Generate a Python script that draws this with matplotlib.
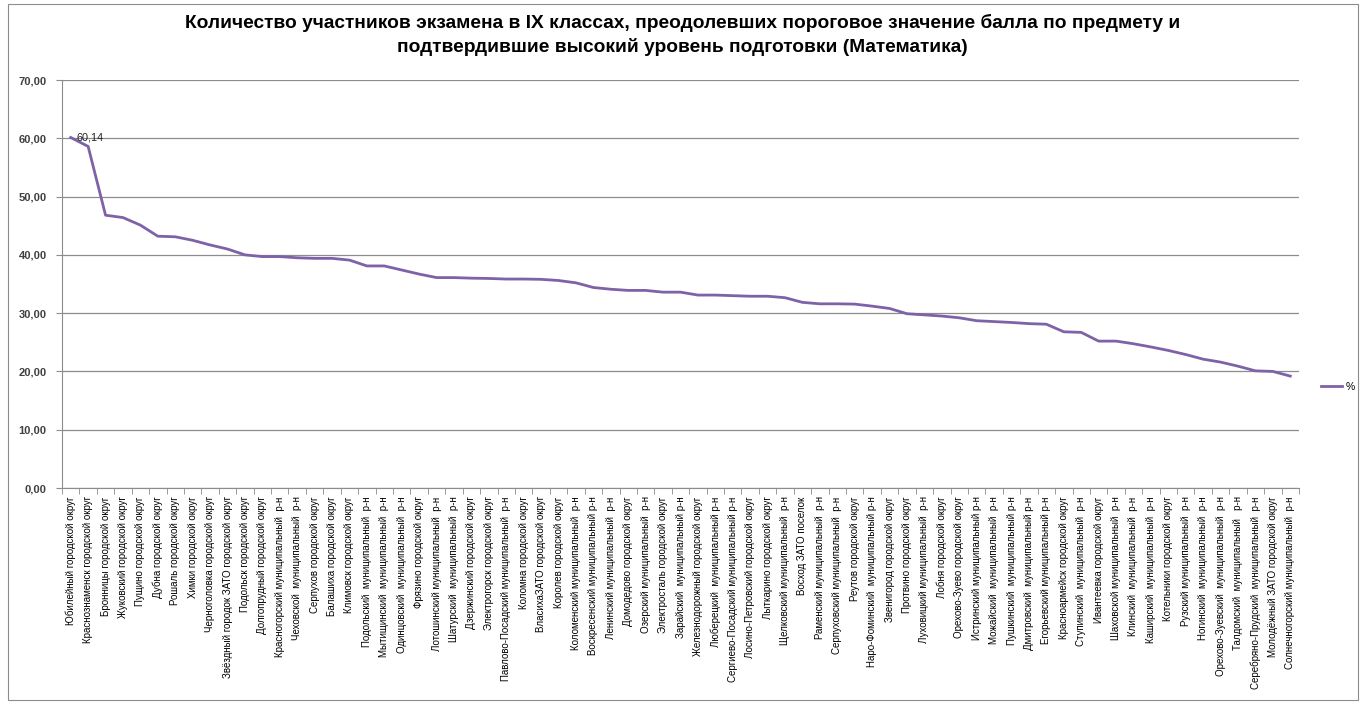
import numpy as np
import matplotlib.pyplot as plt
from matplotlib.patches import Rectangle
from matplotlib.ticker import FuncFormatter, MultipleLocator

districts = [
    'Юбилейный городской округ', 'Краснознаменск городской округ',
    'Бронницы городской округ', 'Жуковский городской округ',
    'Пущино городской округ', 'Дубна городской округ',
    'Рошаль городской округ', 'Химки городской округ',
    'Черноголовка городской округ', 'Звёздный городок ЗАТО городской округ',
    'Подольск городской округ', 'Долгопрудный городской округ',
    'Красногорский муниципальный  р-н', 'Чеховской  муниципальный  р-н',
    'Серпухов городской округ', 'Балашиха городской округ',
    'Климовск городской округ', 'Подольский  муниципальный  р-н',
    'Мытищинский  муниципальный  р-н', 'Одинцовский  муниципальный  р-н',
    'Фрязино городской округ', 'Лотошинский муниципальный  р-н',
    'Шатурский  муниципальный  р-н', 'Дзержинский городской округ',
    'Электрогорск городской округ', 'Павлово-Посадский муниципальный  р-н',
    'Коломна городской округ', 'ВласихаЗАТО городской округ',
    'Королев городской округ', 'Коломенский муниципальный  р-н',
    'Воскресенский муниципальный р-н', 'Ленинский муниципальный  р-н',
    'Домодедово городской округ', 'Озерский муниципальный  р-н',
    'Электросталь городской округ', 'Зарайский  муниципальный р-н',
    'Железнодорожный городской округ', 'Люберецкий  муниципальный р-н',
    'Сергиево-Посадский муниципальный р-н', 'Лосино-Петровский городской округ',
    'Лыткарино городской округ', 'Щелковский муниципальный  р-н',
    'Восход ЗАТО поселок', 'Раменский муниципальный  р-н',
    'Серпуховский муниципальный  р-н', 'Реутов городской округ',
    'Наро-Фоминский  муниципальный р-н', 'Звенигород городской округ',
    'Протвино городской округ', 'Луховицкий муниципальный  р-н',
    'Лобня городской округ', 'Орехово-Зуево городской округ',
    'Истринский муниципальный р-н', 'Можайский  муниципальный  р-н',
    'Пушкинский  муниципальный р-н', 'Дмитровский  муниципальный р-н',
    'Егорьевский муниципальный р-н', 'Красноармейск городской округ',
    'Ступинский  муниципальный  р-н', 'Ивантеевка городской округ',
    'Шаховской муниципальный  р-н', 'Клинский  муниципальный  р-н',
    'Каширский  муниципальный  р-н', 'Котельники городской округ',
    'Рузский муниципальный  р-н', 'Ногинский  муниципальный  р-н',
    'Орехово-Зуевский  муниципальный  р-н', 'Талдомский  муниципальный   р-н',
    'Серебряно-Прудский  муниципальный  р-н', 'Молодёжный ЗАТО городской округ',
    'Солнечногорский муниципальный  р-н',
]

percent = [
    60.14, 58.6, 46.8, 46.4, 45.1, 43.2, 43.1, 42.5, 41.7, 41.0,
    40.0, 39.7, 39.7, 39.5, 39.4, 39.4, 39.1, 38.1, 38.1, 37.4,
    36.7, 36.1, 36.1, 36.0, 35.95, 35.85, 35.85, 35.8, 35.6, 35.2,
    34.4, 34.1, 33.9, 33.9, 33.6, 33.6, 33.1, 33.1, 33.0, 32.9,
    32.9, 32.65, 31.85, 31.6, 31.6, 31.55, 31.2, 30.8, 29.9, 29.7,
    29.5, 29.2, 28.7, 28.55, 28.4, 28.2, 28.1, 26.8, 26.7, 25.2,
    25.2, 24.75, 24.2, 23.6, 22.9, 22.1, 21.6, 20.9, 20.1, 20.0,
    19.2,
]

title = ('Количество участников экзамена в IX классах, преодолевших пороговое значение балла по предмету и\n'
         'подтвердившие высокий уровень подготовки (Математика)')

plt.rcParams['font.family'] = ['Liberation Sans', 'DejaVu Sans']

fig = plt.figure(figsize=(13.65, 7.06), dpi=100)
ax = fig.add_axes([62 / 1365, 1 - 488 / 706, (1299 - 62) / 1365, (488 - 80) / 706])

x = np.arange(len(percent))
line, = ax.plot(x, percent, color='#7E62A8', lw=2.0, label='%', solid_joinstyle='round')
ax.annotate('60,14', (x[0], percent[0]), xytext=(4, 0), textcoords='offset points',
            fontsize=7.8, va='center', ha='left', color='#222222')

ax.set_xlim(-0.5, len(percent) - 0.5)
ax.set_ylim(0, 70)
ax.yaxis.set_major_locator(MultipleLocator(10))
ax.yaxis.set_major_formatter(FuncFormatter(lambda v, p: f'{v:.2f}'.replace('.', ',')))
ax.grid(axis='y', color='#8c8c8c', lw=0.9)
ax.set_axisbelow(True)

ax.set_xticks(x)
ax.set_xticklabels(districts, rotation=90, fontsize=7.0)
ax.set_xticks(np.arange(-0.5, len(percent)), minor=True)
ax.tick_params(axis='x', which='major', length=0, pad=6)
ax.tick_params(axis='x', which='minor', length=4, color='#8c8c8c')
ax.tick_params(axis='y', length=4, color='#8c8c8c', labelsize=8, pad=7)
for lbl in ax.get_yticklabels():
    lbl.set_fontweight('bold')
    lbl.set_color('#404040')

for side in ['top', 'right']:
    ax.spines[side].set_visible(False)
for side in ['left', 'bottom']:
    ax.spines[side].set_color('#8c8c8c')

fig.text(0.5, 1 - 35 / 706, title, ha='center', va='center', fontsize=13.8,
         fontweight='bold', linespacing=1.45)

fig.legend(handles=[line], loc='center left', bbox_to_anchor=(1312 / 1365, 1 - 387 / 706),
           frameon=False, fontsize=7.5, handlelength=2.0, handletextpad=0.3)

fig.patches.append(Rectangle((8 / 1365, 6 / 706), 1350 / 1365, 696 / 706, transform=fig.transFigure,
                             fill=False, edgecolor='#8c8c8c', lw=0.8))

fig.savefig('out.png', dpi=100)
